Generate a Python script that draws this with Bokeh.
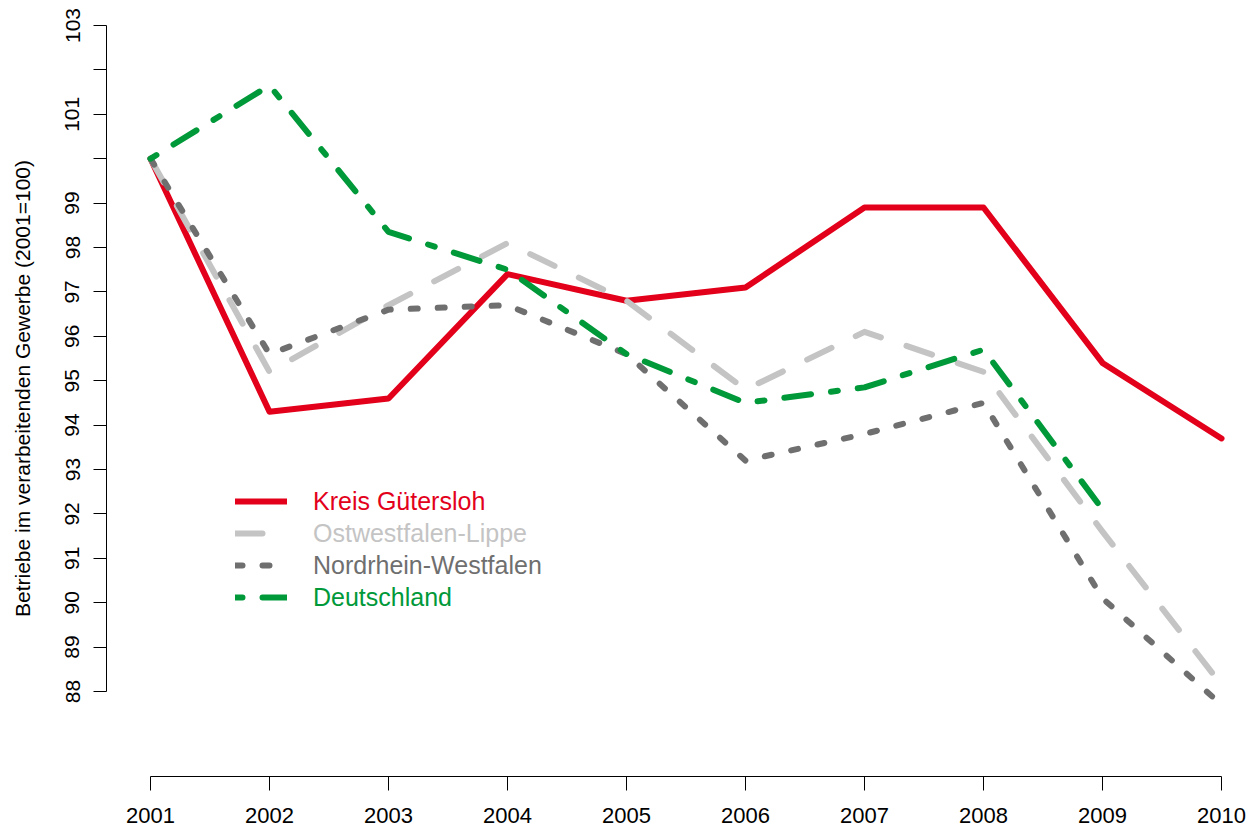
import numpy as np
from bokeh.plotting import figure
from bokeh.models import Range1d, LinearAxis, FixedTicker, Legend, LegendItem
from bokeh.embed import file_html
from bokeh.resources import INLINE

# ---------------- data ----------------
years = [2001, 2002, 2003, 2004, 2005, 2006, 2007, 2008, 2009, 2010]
kreis_guetersloh = [100.0, 94.3, 94.6, 97.4, 96.8, 97.1, 98.9, 98.9, 95.4, 93.7]
ostwestfalen_lippe = [100.0, 95.2, 96.7, 98.1, 96.8, 94.8, 96.1, 95.2, 91.6, 88.15]
nordrhein_westfalen = [100.0, 95.6, 96.6, 96.7, 95.6, 93.2, 93.8, 94.5, 90.1, 87.7]
deutschland = [100.0, 101.65, 98.35, 97.5, 95.6, 94.5, 94.85, 95.7, 92.1, np.nan]

series_names = ["Kreis Gütersloh", "Ostwestfalen-Lippe", "Nordrhein-Westfalen", "Deutschland"]
y_tick_labelled = [88, 89, 90, 91, 92, 93, 94, 95, 96, 97, 98, 99, 101, 103]
y_tick_unlabelled = [100, 102]
y_title = "Betriebe im verarbeitenden Gewerbe (2001=100)"

# ---------------- styles / layout ----------------
RED = "#E3001B"
LGRAY = "#C4C4C4"
DGRAY = "#6F6F6F"
GREEN = "#00993A"
FONT = "Liberation Sans"

W, H = 1254, 832
B_LEFT, B_BOTTOM, B_TOP = 106, 56, 0
PX_PER_UNIT = 44.4
PX_PER_YEAR = 119.0
frame_w = W - B_LEFT
frame_h = H - B_BOTTOM - B_TOP

y_top = 103 + 25 / PX_PER_UNIT
y_bot = y_top - frame_h / PX_PER_UNIT
x_start = 2001 - 44 / PX_PER_YEAR
x_end = x_start + frame_w / PX_PER_YEAR

p = figure(width=W, height=H,
           x_range=Range1d(x_start, x_end), y_range=Range1d(y_bot, y_top),
           output_backend="svg", toolbar_location=None,
           x_axis_location=None, y_axis_location=None,
           min_border_left=B_LEFT, min_border_right=0,
           min_border_top=B_TOP, min_border_bottom=B_BOTTOM)
p.outline_line_color = None
p.background_fill_color = "white"
p.border_fill_color = "white"
p.xgrid.visible = False
p.ygrid.visible = False

xaxis = LinearAxis(ticker=FixedTicker(ticks=years), bounds=(2001, 2010))
xaxis.axis_line_color = "black"
xaxis.axis_line_width = 1
xaxis.major_tick_line_color = "black"
xaxis.major_tick_out = 14
xaxis.major_tick_in = 0
xaxis.minor_tick_line_color = None
xaxis.major_label_standoff = 17
xaxis.major_label_text_font = FONT
xaxis.major_label_text_font_size = "22px"
xaxis.major_label_text_color = "black"
p.add_layout(xaxis, "below")

yaxis = LinearAxis(ticker=FixedTicker(ticks=y_tick_labelled, minor_ticks=y_tick_unlabelled),
                   bounds=(88, 103), axis_label=y_title)
yaxis.axis_line_color = "black"
yaxis.axis_line_width = 1
yaxis.major_tick_line_color = "black"
yaxis.major_tick_out = 13
yaxis.major_tick_in = 0
yaxis.minor_tick_line_color = "black"
yaxis.minor_tick_out = 13
yaxis.minor_tick_in = 0
yaxis.major_label_orientation = "parallel"
yaxis.major_label_standoff = 14
yaxis.major_label_text_font = FONT
yaxis.major_label_text_font_size = "21px"
yaxis.major_label_text_color = "black"
yaxis.axis_label_text_font = FONT
yaxis.axis_label_text_font_size = "21px"
yaxis.axis_label_text_font_style = "normal"
yaxis.axis_label_text_color = "black"
yaxis.axis_label_standoff = 29
p.add_layout(yaxis, "left")

common = dict(line_width=6, line_cap="round", line_join="round")
r1 = p.line(years, kreis_guetersloh, line_color=RED, **common)
r2 = p.line(years, ostwestfalen_lippe, line_color=LGRAY, line_dash="27 27", **common)
r3 = p.line(years, nordrhein_westfalen, line_color=DGRAY, line_dash="7 20", **common)
r4 = p.line(np.array(years, dtype=float), np.array(deutschland, dtype=float),
            line_color=GREEN, line_dash="7 20 27 20", **common)

renderers = [r1, r2, r3, r4]
colors = [RED, LGRAY, DGRAY, GREEN]
legend_bottoms = [260.5, 228.5, 196.5, 164.5]
for name, r, c, vy in zip(series_names, renderers, colors, legend_bottoms):
    leg = Legend(items=[LegendItem(label=name, renderers=[r])], location=(129, vy))
    leg.background_fill_alpha = 0
    leg.border_line_alpha = 0
    leg.padding = 0
    leg.margin = 0
    leg.spacing = 0
    leg.glyph_width = 52
    leg.glyph_height = 20
    leg.label_height = 20
    leg.label_standoff = 26
    leg.label_text_font = FONT
    leg.label_text_font_size = "25px"
    leg.label_text_color = c
    p.add_layout(leg)

open("out.html", "w").write(file_html(p, INLINE))
